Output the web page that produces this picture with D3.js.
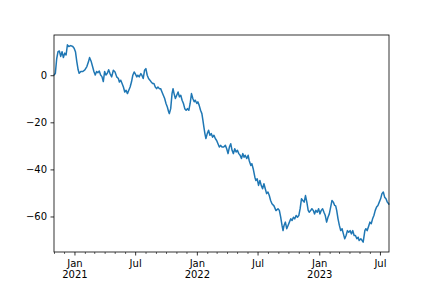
<!DOCTYPE html>
<html>
<head>
<meta charset="utf-8">
<script src="https://cdn.jsdelivr.net/npm/d3@7"></script>
<style>
  body { margin: 0; background: #fff; }
  svg { display: block; font-family: "DejaVu Sans", sans-serif; }
</style>
</head>
<body>
<div id="chart"></div>
<script>
// daily random-walk series, every few days
const startDate = '2020-11-01';
const dayIndex = [
  0, 4, 8, 12, 16, 20, 24, 28, 32, 36, 40, 44, 50, 56, 60, 64, 68, 72, 75, 80,
  86, 92, 98, 103, 106, 111, 115, 119, 123, 127, 131, 135, 139, 143, 147, 151, 155, 159, 163, 167,
  172, 177, 182, 187, 192, 195, 199, 203, 207, 211, 215, 219, 223, 227, 231, 235, 239, 242, 247, 250,
  254, 259, 262, 266, 270, 274, 278, 282, 286, 290, 294, 298, 302, 306, 310, 314, 318, 322, 326, 330,
  334, 338, 342, 344, 348, 352, 355, 358, 362, 366, 370, 374, 378, 382, 386, 390, 394, 398, 402, 406,
  410, 414, 418, 421, 426, 429, 433, 437, 441, 444, 447, 450, 453, 457, 461, 465, 469, 473, 477, 481,
  485, 489, 493, 497, 501, 506, 511, 515, 519, 523, 527, 531, 535, 539, 543, 547, 551, 555, 559, 563,
  567, 570, 575, 579, 582, 587, 590, 594, 599, 602, 606, 610, 614, 618, 622, 626, 630, 634, 638, 642,
  646, 650, 656, 662, 668, 672, 676, 680, 683, 686, 690, 694, 698, 702, 706, 710, 714, 718, 722, 726,
  730, 734, 738, 742, 746, 750, 754, 758, 761, 766, 769, 773, 777, 781, 785, 789, 793, 797, 801, 805,
  809, 813, 817, 821, 825, 829, 833, 837, 840, 843, 847, 851, 855, 859, 863, 867, 871, 875, 879, 883,
  887, 891, 895, 899, 903, 907, 910, 915, 919, 922, 927, 930, 934, 939, 942, 946, 950, 954, 958, 962,
  966, 970, 974, 978, 982, 986, 990, 994, 998, 999
];
const values = [
  0, 0.8, 7, 10, 10.3, 8, 10, 7.5, 9.4, 8.6, 12.9, 12.2, 12.6, 12.2, 11.5, 10, 5.8, 2.3, 0.8, 1.6,
  1.6, 2.3, 3.7, 5.8, 7.5, 5.8, 3.7, 1.6, 0.1, 1.6, 1.1, 1.8, 0.1, -0.6, -2.7, 1.6, 0.1, 0.8, 2.3, 0.7,
  -0.7, 2.1, 1.4, -0.7, -1.4, -2.9, -2.1, -3.5, -5, -7.1, -6.4, -7.8, -6.4, -5, -2.9, 0, 1.4, 0.7, -0.7, 0,
  -0.7, 0.7, 0, -1.4, 2.1, 2.8, 0, -1.4, -2.1, -2.9, -3.5, -3.5, -5, -5.7, -5, -5.7, -5.7, -7.1, -8.5, -9.9,
  -12, -13.5, -15.6, -16.3, -14.2, -7.8, -5.7, -7.8, -9.9, -8.5, -7.1, -9.2, -8.5, -10.6, -12, -14.2, -14.9, -14.2, -14.9, -12,
  -7.8, -9.9, -11.3, -10.6, -12, -11.3, -12.8, -14.9, -16.3, -19.1, -22, -24.8, -26.9, -24.8, -23.4, -25.5, -24.8, -26.3, -25.5, -26.9,
  -27.7, -29.1, -30.5, -29.8, -30.5, -30.5, -29.8, -31.2, -33.3, -30.5, -29.1, -31.9, -33.3, -31.2, -32.6, -31.9, -33.3, -34, -35.4, -33.3,
  -34.8, -34, -35.4, -34, -36.2, -38.3, -37.6, -39.7, -43.3, -44.7, -44, -46.8, -44.7, -46.8, -48.2, -46.1, -48.2, -50.3, -49.6, -51.1,
  -53.2, -54.6, -55.5, -57.5, -56.7, -57.4, -60.3, -63.8, -66, -63.8, -62.4, -65.2, -63.8, -62.4, -61, -61.7, -60.3, -61, -59.6, -60.3,
  -59.6, -56.7, -52.5, -53.2, -53.9, -51.1, -53.9, -57.4, -58.2, -57.4, -56.7, -57.4, -58.9, -57.4, -58.2, -56.7, -58.9, -57.4, -56.7, -58.2,
  -59.6, -62.4, -60.3, -58.9, -56, -53.2, -53.9, -55.3, -55.5, -57.4, -61, -63.8, -66, -65.2, -67.4, -69.5, -68.1, -66, -66.7, -66,
  -67.4, -66, -68.1, -68.1, -69.5, -68.8, -70.2, -69.5, -70.2, -70.9, -66, -65.2, -66, -63.8, -62.4, -63.1, -61, -59.6, -57.4, -56,
  -55.3, -53.9, -52.5, -50.3, -49.6, -51.8, -52.5, -53.9, -54.6, -55
];
const xTickDates = ['2021-01-01', '2021-07-01', '2022-01-01', '2022-07-01', '2023-01-01', '2023-07-01'];
const xTickLabels = [['Jan', '2021'], ['Jul'], ['Jan', '2022'], ['Jul'], ['Jan', '2023'], ['Jul']];
const yTicks = [0, -20, -40, -60];

const margin = { top: 35, right: 43, bottom: 36, left: 54 };
const width = 432 - margin.left - margin.right;
const height = 288 - margin.top - margin.bottom;

const parse = d3.utcParse('%Y-%m-%d');
const t0 = parse(startDate);
const data = dayIndex.map((d, i) => ({ date: d3.utcDay.offset(t0, d), value: values[i] }));

const svg = d3.select('#chart')
  .append('svg')
  .attr('width', 432)
  .attr('height', 288)
  .append('g')
  .attr('transform', `translate(${margin.left}, ${margin.top})`);

const x = d3.scaleUtc()
  .domain(d3.extent(data, d => d.date))
  .range([0, width]);

// matplotlib-style 5% padding on y
const [lo, hi] = d3.extent(data, d => d.value);
const pad = (hi - lo) * 0.05;
const y = d3.scaleLinear()
  .domain([lo - pad, hi + pad])
  .range([height, 0]);

const line = d3.line()
  .x(d => x(d.date))
  .y(d => y(d.value));

svg.append('path')
  .datum(data)
  .attr('fill', 'none')
  .attr('stroke', '#1f77b4')
  .attr('stroke-width', 1.5)
  .attr('stroke-linejoin', 'round')
  .attr('d', line);

// minor monthly ticks
const majorSet = new Set(xTickDates);
const minor = d3.utcMonth.range(x.domain()[0], d3.utcDay.offset(x.domain()[1], 1))
  .filter(d => !majorSet.has(d3.utcFormat('%Y-%m-%d')(d)));
svg.append('g')
  .attr('transform', `translate(0, ${height})`)
  .call(d3.axisBottom(x).tickValues(minor).tickSize(2).tickFormat(''))
  .call(g => g.select('.domain').remove())
  .call(g => g.selectAll('line').attr('stroke', '#000').attr('stroke-width', 0.6));

const xAxis = svg.append('g')
  .attr('transform', `translate(0, ${height})`)
  .call(d3.axisBottom(x).tickValues(xTickDates.map(parse)).tickSize(3.5).tickFormat(''));
xAxis.select('.domain').remove();
xAxis.selectAll('line').attr('stroke', '#000').attr('stroke-width', 0.8);
xAxis.selectAll('.tick').each(function (d, i) {
  const t = d3.select(this).append('text')
    .attr('fill', '#000')
    .attr('font-size', 10)
    .attr('font-family', '"DejaVu Sans", sans-serif')
    .attr('text-anchor', 'middle');
  xTickLabels[i].forEach((s, j) => {
    t.append('tspan').attr('x', 0).attr('y', 14.5 + j * 11.6).text(s);
  });
});

const yAxis = svg.append('g')
  .call(d3.axisLeft(y).tickValues(yTicks).tickSize(3.5).tickPadding(3.5)
    .tickFormat(d => d3.format('d')(d).replace('-', '\u2212')));
yAxis.select('.domain').remove();
yAxis.selectAll('line').attr('stroke', '#000').attr('stroke-width', 0.8);
yAxis.selectAll('text').attr('fill', '#000').attr('font-size', 10)
  .attr('font-family', '"DejaVu Sans", sans-serif');

// axes frame
svg.append('rect')
  .attr('width', width)
  .attr('height', height)
  .attr('fill', 'none')
  .attr('stroke', '#000')
  .attr('stroke-width', 0.8);
</script>
</body>
</html>
